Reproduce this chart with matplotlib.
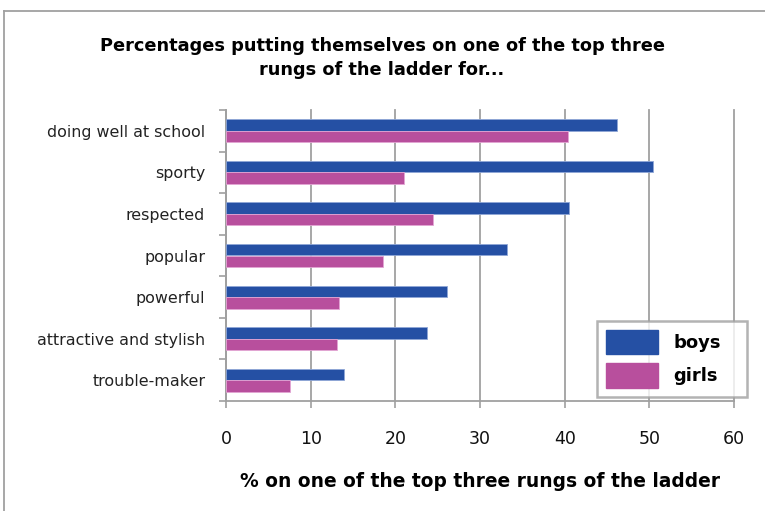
import matplotlib
matplotlib.use("Agg")
import matplotlib.pyplot as plt
from matplotlib.lines import Line2D
from matplotlib.patches import Patch
import numpy as np

categories = ["doing well at school", "sporty", "respected", "popular",
              "powerful", "attractive and stylish", "trouble-maker"]
boys = [46.2, 50.4, 40.5, 33.2, 26.1, 23.7, 13.9]
girls = [40.4, 21.0, 24.4, 18.6, 13.3, 13.1, 7.5]
xticks = [0, 10, 20, 30, 40, 50, 60]

W, H = 765, 511
fig = plt.figure(figsize=(W / 100, H / 100), dpi=100)
fig.patch.set_facecolor("white")

# axes placement in pixels
left, right, top, bottom = 226, 734, 110, 401
ax = fig.add_axes([left / W, 1 - bottom / H, (right - left) / W, (bottom - top) / H])

n = len(categories)
y = np.arange(n)
h = 0.275
blue = "#2550A4"
pink = "#B84F9D"
ax.barh(y - h / 2, boys, height=h, color=blue, edgecolor="#8FA6D6", linewidth=0.6, zorder=3)
ax.barh(y + h / 2, girls, height=h, color=pink, edgecolor="#E3A5D4", linewidth=0.6, zorder=3)

ax.set_ylim(n - 0.5, -0.5)
ax.set_xlim(0, 60)
ax.set_yticks(y)
ax.set_yticklabels(categories, fontsize=11.4, color="#222222")
ax.set_yticks(np.arange(-0.5, n, 1), minor=True)
ax.tick_params(axis="y", which="major", length=0, pad=15)
ax.tick_params(axis="y", which="minor", length=5, width=1.2, color="#A0A0A0", direction="out")
ax.set_xticks(xticks)
ax.set_xticklabels([str(t) for t in xticks], fontsize=12.5, color="#111111")
ax.tick_params(axis="x", length=5, width=1.2, color="#A0A0A0", direction="out", pad=16)

ax.grid(axis="x", color="#A0A0A0", linewidth=1.3, zorder=0)
for gl in ax.get_xgridlines():
    gl.set_clip_on(False)
for s in ["top", "right"]:
    ax.spines[s].set_visible(False)
for s in ["left", "bottom"]:
    ax.spines[s].set_color("#A0A0A0")
    ax.spines[s].set_linewidth(1.3)

ax.set_xlabel("% on one of the top three rungs of the ladder", fontsize=13.4,
              fontweight="bold", labelpad=17)

fig.text(382 / W, 1 - 58 / H,
         "Percentages putting themselves on one of the top three\nrungs of the ladder for...",
         ha="center", va="center", fontsize=12.8, fontweight="bold", linespacing=1.4)

# legend
handles = [Patch(facecolor=blue, edgecolor=blue), Patch(facecolor=pink, edgecolor=pink)]
leg = fig.legend(handles, ["boys", "girls"], loc="upper left", mode="expand",
                 bbox_to_anchor=(597 / W, 1 - 398 / H, 150 / W, 77 / H),
                 bbox_transform=fig.transFigure,
                 frameon=True, fancybox=False, edgecolor="#A0A0A0",
                 prop={"weight": "bold", "size": 13}, handlelength=2.9, handleheight=1.7,
                 borderpad=0.5, labelspacing=0.5, handletextpad=0.85, borderaxespad=0)
leg.get_frame().set_linewidth(1.8)

# outer chart border
fig.add_artist(Line2D([4 / W, 4 / W], [0, 1 - 11 / H], transform=fig.transFigure,
                      color="#A0A0A0", linewidth=1.3))
fig.add_artist(Line2D([4 / W, 1.01], [1 - 11 / H, 1 - 11 / H], transform=fig.transFigure,
                      color="#A0A0A0", linewidth=1.3))

fig.savefig("out.png", dpi=100, facecolor="white")
